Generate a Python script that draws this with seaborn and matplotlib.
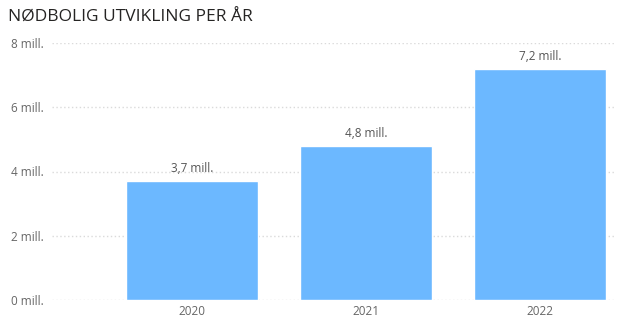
import matplotlib
matplotlib.use("Agg")
import matplotlib.pyplot as plt
import seaborn as sns
import pandas as pd

years = ["2020", "2021", "2022"]
values = [3.7, 4.8, 7.2]
labels = ["3,7 mill.", "4,8 mill.", "7,2 mill."]
yticks = [0, 2, 4, 6, 8]
ytick_labels = ["0 mill.", "2 mill.", "4 mill.", "6 mill.", "8 mill."]

df = pd.DataFrame({"year": years, "value": values})

sns.set_style("white")
plt.rcParams["font.family"] = ["Segoe UI", "Open Sans", "DejaVu Sans"]

fig = plt.figure(figsize=(6.25, 3.21), dpi=100)
ax = fig.add_axes([52 / 625, 21 / 321, 563 / 625, 257 / 321])

sns.barplot(data=df, x="year", y="value", color="#6CB8FF", width=0.755,
            saturation=1, ax=ax, zorder=3)

for i, (v, lab) in enumerate(zip(values, labels)):
    ax.text(i, v + 0.18, lab, ha="center", va="bottom", fontsize=8.5, color="#555555")

ax.set_xlim(-0.805, 2.43)
ax.set_ylim(0, 8)
ax.set_yticks(yticks)
ax.set_yticklabels(ytick_labels)
ax.yaxis.grid(True, linestyle=(0, (1, 1.8)), color="#dadada", linewidth=1, zorder=0)
ax.set_xlabel("")
ax.set_ylabel("")
for s in ax.spines.values():
    s.set_visible(False)
ax.tick_params(axis="both", length=0, labelsize=8.5, colors="#666666")
ax.tick_params(axis="y", pad=6)

fig.text(8 / 625, 1 - 18 / 321, "NØDBOLIG UTVIKLING PER ÅR", fontsize=12.5,
         color="#252423", ha="left", va="center")

fig.savefig("out.png", dpi=100)
